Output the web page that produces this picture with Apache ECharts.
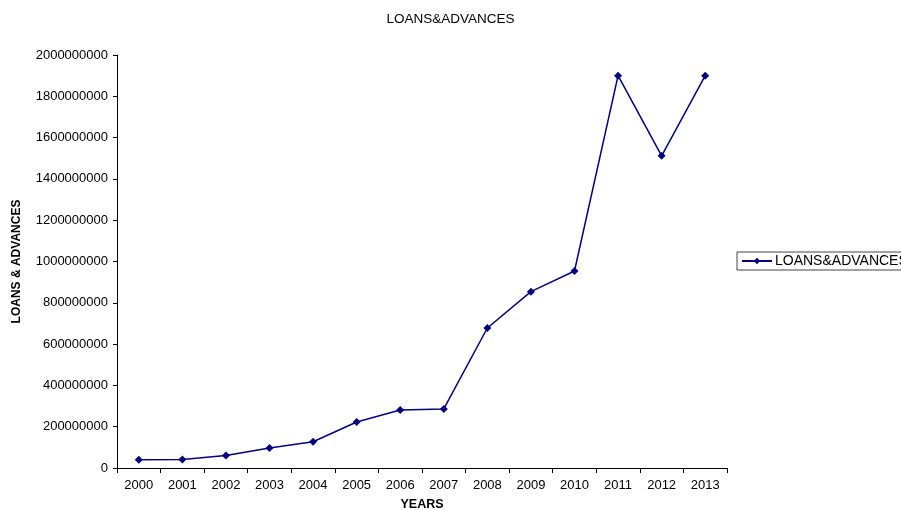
<!DOCTYPE html>
<html>
<head>
<meta charset="utf-8">
<title>LOANS&amp;ADVANCES</title>
<script src="https://cdn.jsdelivr.net/npm/echarts@6/dist/echarts.min.js"></script>
<style>
  html, body { margin: 0; padding: 0; background: #fff; }
  #chart { width: 901px; height: 510px; }
</style>
</head>
<body>
<div id="chart"></div>
<script>
// Yearly loans & advances
const years = ['2000', '2001', '2002', '2003', '2004', '2005', '2006',
               '2007', '2008', '2009', '2010', '2011', '2012', '2013'];
const loansAdvances = [40000000, 41000000, 60000000, 97000000, 127000000, 223000000, 281000000,
                       286000000, 678000000, 854000000, 954000000, 1900000000, 1512000000, 1900000000];
const seriesName = 'LOANS&ADVANCES';

const FONT = 'Liberation Sans, Arial, sans-serif';
const chart = echarts.init(document.getElementById('chart'), null, { renderer: 'canvas' });

chart.setOption({
  animation: false,
  backgroundColor: '#ffffff',
  title: {
    text: 'LOANS&ADVANCES',
    left: 'center',
    top: 7,
    textStyle: { fontFamily: FONT, fontSize: 13.5, fontWeight: 'normal', color: '#000' }
  },
  legend: {
    left: 737,
    top: 252,
    orient: 'vertical',
    padding: [2, 4, 2, 4],
    borderColor: '#444',
    borderWidth: 1,
    borderRadius: 0,
    itemWidth: 30,
    itemHeight: 8,
    itemGap: 4,
    textStyle: { fontFamily: FONT, fontSize: 14, color: '#000', padding: [0, 0, 0, -2] },
    data: [seriesName]
  },
  grid: { left: 117, right: 174, top: 55, bottom: 42, containLabel: false, outerBoundsMode: 'none' },
  xAxis: {
    type: 'category',
    data: years,
    boundaryGap: true,
    name: 'YEARS',
    nameLocation: 'middle',
    nameGap: 30,
    nameTextStyle: { fontFamily: FONT, fontSize: 12.5, fontWeight: 'bold', color: '#000' },
    axisLine: { lineStyle: { color: '#000', width: 1 } },
    axisTick: { show: true, length: 5, alignWithLabel: false, lineStyle: { color: '#000' } },
    axisLabel: { fontFamily: FONT, fontSize: 13, color: '#000', margin: 11, interval: 0 },
    splitLine: { show: false }
  },
  yAxis: {
    type: 'value',
    min: 0,
    max: 2000000000,
    interval: 200000000,
    name: 'LOANS & ADVANCES',
    nameLocation: 'middle',
    nameGap: 94,
    nameRotate: 90,
    nameTextStyle: { fontFamily: FONT, fontSize: 12, fontWeight: 'bold', color: '#000' },
    axisLine: { show: true, lineStyle: { color: '#000', width: 1 } },
    axisTick: { show: true, length: 4, lineStyle: { color: '#000' } },
    axisLabel: {
      fontFamily: FONT, fontSize: 13, color: '#000', margin: 9,
      formatter: v => String(v)
    },
    splitLine: { show: false }
  },
  series: [{
    name: seriesName,
    type: 'line',
    data: loansAdvances,
    symbol: 'diamond',
    symbolSize: 8,
    showSymbol: true,
    itemStyle: { color: '#000080' },
    lineStyle: { color: '#000080', width: 1.5 }
  }]
});
</script>
</body>
</html>
